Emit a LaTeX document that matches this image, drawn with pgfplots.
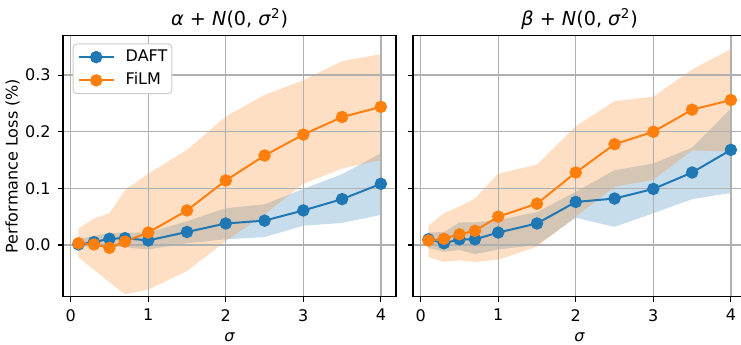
\documentclass[border=0pt]{standalone}
\usepackage{fontspec}
\setmainfont{DejaVu Sans}
\usepackage{pgfplots}
\usepackage{pgfplotstable}
\pgfplotsset{compat=1.18}
\usepgfplotslibrary{fillbetween}
\definecolor{c0}{HTML}{1F77B4}
\definecolor{c1}{HTML}{FF7F0E}
\definecolor{gridc}{HTML}{B0B0B0}
\definecolor{legc}{HTML}{CCCCCC}

\pgfplotstableread{
x     dm      dlo     dhi     fm      flo     fhi
0.1   0.001  -0.003   0.010   0.003  -0.022   0.029
0.3   0.005  -0.002   0.016   0.001  -0.044   0.047
0.5   0.011  -0.003   0.021  -0.005  -0.066   0.056
0.7   0.012  -0.004   0.022   0.006  -0.087   0.097
1.0   0.008  -0.008   0.022   0.022  -0.079   0.126
1.5   0.023   0.003   0.042   0.061  -0.046   0.168
2.0   0.038   0.010   0.065   0.114   0.007   0.227
2.5   0.043   0.014   0.072   0.158   0.054   0.265
3.0   0.061   0.034   0.099   0.195   0.108   0.291
3.5   0.081   0.039   0.125   0.226   0.135   0.325
4.0   0.108   0.053   0.162   0.244   0.150   0.337
}\lefttab

\pgfplotstableread{
x     dm      dlo     dhi     fm      flo     fhi
0.1   0.010  -0.005   0.022   0.008  -0.021   0.034
0.3   0.003  -0.012   0.023   0.011  -0.030   0.056
0.5   0.010  -0.009   0.040   0.019  -0.027   0.068
0.7   0.010  -0.016   0.040   0.025  -0.030   0.082
1.0   0.022  -0.008   0.044   0.050  -0.026   0.126
1.5   0.038   0.000   0.058   0.073  -0.003   0.142
2.0   0.076   0.048   0.094   0.128   0.050   0.210
2.5   0.082   0.032   0.132   0.178   0.103   0.254
3.0   0.099   0.056   0.144   0.200   0.115   0.262
3.5   0.128   0.081   0.172   0.239   0.167   0.310
4.0   0.168   0.092   0.241   0.256   0.165   0.346
}\righttab

\pgfplotsset{
  myaxis/.style={
    scale only axis, width=166.35pt, height=130.5pt,
    xmin=-0.095, xmax=4.195, ymin=-0.091, ymax=0.37,
    xtick={0,1,2,3,4}, ytick={0,0.1,0.2,0.3},
    scaled y ticks=false,
    xtick pos=left, ytick pos=left, tick align=outside,
    major tick length=2.8pt,
    every tick/.style={black, line width=0.6pt},
    axis line style={black, line width=0.9pt},
    grid=major, major grid style={color=gridc, line width=0.7pt},
    tick label style={font=\fontsize{8pt}{9.6pt}\selectfont, text=black},
    /pgf/number format/assume math mode=true,
    yticklabel style={/pgf/number format/fixed, /pgf/number format/fixed zerofill, /pgf/number format/precision=1},
    xlabel={\textit{σ}},
    every axis x label/.style={at={(axis description cs:0.5,-0.1743)}, anchor=base, inner sep=0pt, font=\fontsize{8pt}{9.6pt}\selectfont},
    every axis title/.style={at={(axis description cs:0.5,1.0364)}, anchor=base, inner sep=0pt, font=\fontsize{9.6pt}{11.5pt}\selectfont},
    legend image code/.code={\draw[mark repeat=2,mark phase=2] plot coordinates {(0pt,0pt)(8.75pt,0pt)(17.5pt,0pt)};},
  },
  dline/.style={c0, line width=1.0pt, mark=*, mark size=2.6pt, mark options={solid, fill=c0, draw=c0}},
  fline/.style={c1, line width=1.0pt, mark=*, mark size=2.6pt, mark options={solid, fill=c1, draw=c1}},
}

\begin{document}
\begin{tikzpicture}
\begin{axis}[myaxis, at={(31.65pt,23.75pt)}, anchor=south west,
  title={\textit{α} + \textit{N}(0, \textit{σ}\textsuperscript{2})},
  ylabel={Performance Loss (\%)},
  every axis y label/.style={at={(axis description cs:-0.1752,0.5)}, rotate=90, anchor=north, inner sep=0pt, font=\fontsize{8pt}{9.6pt}\selectfont},
  legend cell align=left,
  legend style={at={(0.028,0.970)}, anchor=north west, draw=legc, fill=white, rounded corners=2pt, line width=0.5pt,
    inner xsep=2.3pt, inner ysep=2.9pt, row sep=4.15pt,
    nodes={inner sep=0pt, text height=6pt, text depth=1.5pt},
    font=\fontsize{8pt}{9.6pt}\selectfont,
    /tikz/every odd column/.append style={column sep=5.5pt}},
]
\addplot[draw=none, name path=dhiL, forget plot] table[x=x, y=dhi] {\lefttab};
\addplot[draw=none, name path=dloL, forget plot] table[x=x, y=dlo] {\lefttab};
\addplot[draw=none, name path=fhiL, forget plot] table[x=x, y=fhi] {\lefttab};
\addplot[draw=none, name path=floL, forget plot] table[x=x, y=flo] {\lefttab};
\addplot[fill=c0, fill opacity=0.25, draw=none, forget plot] fill between[of=dhiL and dloL, on layer=axis background];
\addplot[fill=c1, fill opacity=0.25, draw=none, forget plot] fill between[of=fhiL and floL, on layer=axis background];
\addplot[dline] table[x=x, y=dm] {\lefttab};
\addlegendentry{DAFT}
\addplot[fline] table[x=x, y=fm] {\lefttab};
\addlegendentry{FiLM}
\end{axis}
\begin{axis}[myaxis, at={(206.65pt,23.75pt)}, anchor=south west,
  title={\textit{β} + \textit{N}(0, \textit{σ}\textsuperscript{2})},
  yticklabels={},
]
\addplot[draw=none, name path=dhiR, forget plot] table[x=x, y=dhi] {\righttab};
\addplot[draw=none, name path=dloR, forget plot] table[x=x, y=dlo] {\righttab};
\addplot[draw=none, name path=fhiR, forget plot] table[x=x, y=fhi] {\righttab};
\addplot[draw=none, name path=floR, forget plot] table[x=x, y=flo] {\righttab};
\addplot[fill=c0, fill opacity=0.25, draw=none, forget plot] fill between[of=dhiR and dloR, on layer=axis background];
\addplot[fill=c1, fill opacity=0.25, draw=none, forget plot] fill between[of=fhiR and floR, on layer=axis background];
\addplot[dline] table[x=x, y=dm] {\righttab};
\addplot[fline] table[x=x, y=fm] {\righttab};
\end{axis}
\pgfresetboundingbox
\path (0pt,0pt) rectangle (370.5pt,172pt);
\end{tikzpicture}
\end{document}
